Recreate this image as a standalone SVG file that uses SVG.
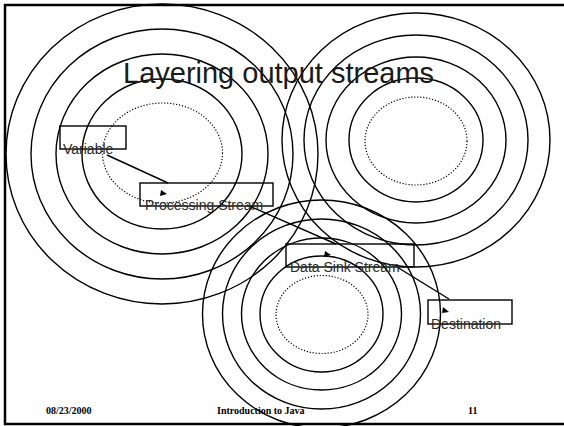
<svg xmlns="http://www.w3.org/2000/svg" width="564" height="426" viewBox="0 0 564 426">
<style>
.ring{fill:none;stroke:#000;stroke-width:1.4}
.dot{fill:none;stroke:#000;stroke-width:1.2;stroke-dasharray:1.2 1.8}
.box{fill:none;stroke:#000;stroke-width:1.4}
.lbl{font-family:"Liberation Sans",Arial,sans-serif;font-size:14px;fill:#2a2a2a}
.foot{font-family:"Liberation Serif","Times New Roman",serif;font-size:10px;font-weight:bold;fill:#000}
.conn{stroke:#000;stroke-width:1.4;fill:none}
.head{fill:#000}
</style>
<rect x="0" y="0" width="564" height="426" fill="#fff"/>
<rect x="5" y="5" width="565" height="419" fill="none" stroke="#000" stroke-width="2.5"/>
<g id="rings-left">
<ellipse class="ring" cx="162" cy="154" rx="156" ry="150"/>
<ellipse class="ring" cx="162" cy="154" rx="131" ry="125"/>
<ellipse class="ring" cx="162" cy="154" rx="106" ry="100"/>
<ellipse class="ring" cx="162" cy="154" rx="80" ry="75"/>
<ellipse class="dot" cx="162.5" cy="153" rx="60" ry="50"/>
</g>
<g id="rings-right">
<ellipse class="ring" cx="416" cy="140" rx="134" ry="127"/>
<ellipse class="ring" cx="416" cy="140" rx="112" ry="105"/>
<ellipse class="ring" cx="416" cy="140" rx="90" ry="83"/>
<ellipse class="ring" cx="416" cy="140" rx="67" ry="62"/>
<ellipse class="dot" cx="416" cy="141" rx="51" ry="44"/>
</g>
<g id="rings-bottom">
<ellipse class="ring" cx="321.5" cy="314" rx="119" ry="114"/>
<ellipse class="ring" cx="321.5" cy="314" rx="99" ry="95"/>
<ellipse class="ring" cx="321.5" cy="314" rx="80" ry="76"/>
<ellipse class="ring" cx="321.5" cy="314" rx="61.5" ry="58"/>
<ellipse class="dot" cx="322" cy="314.5" rx="46" ry="39"/>
</g>
<text x="123" y="83" font-family="Liberation Sans, Arial, sans-serif" font-size="29" fill="#1a1a1a">Layering output streams</text>
<g id="connectors">
<line class="conn" x1="107" y1="155" x2="168" y2="183"/>
<polygon class="head" points="161,190 167,194 160,196"/>
<line class="conn" x1="247" y1="205" x2="336" y2="244"/>
<polygon class="head" points="325,251 331,255 324,257"/>
<line class="conn" x1="397" y1="267" x2="449" y2="299"/>
<polygon class="head" points="443,307 449,312 442,313"/>
</g>
<g id="node-variable">
<rect class="box" x="60" y="126" width="66" height="23"/>
<text class="lbl" x="63" y="154">Variable</text>
</g>
<g id="node-processing">
<rect class="box" x="140" y="183" width="133" height="23"/>
<text class="lbl" x="145" y="210">Processing Stream</text>
</g>
<g id="node-datasink">
<rect class="box" x="286" y="244" width="128" height="23"/>
<text class="lbl" x="290" y="272">Data Sink Stream</text>
</g>
<g id="node-destination">
<rect class="box" x="428" y="300" width="84" height="24"/>
<text class="lbl" x="431" y="329">Destination</text>
</g>
<g id="footer">
<text class="foot" x="46" y="414">08/23/2000</text>
<text class="foot" x="217" y="414">Introduction to Java</text>
<text class="foot" x="468" y="414">11</text>
</g>
</svg>
